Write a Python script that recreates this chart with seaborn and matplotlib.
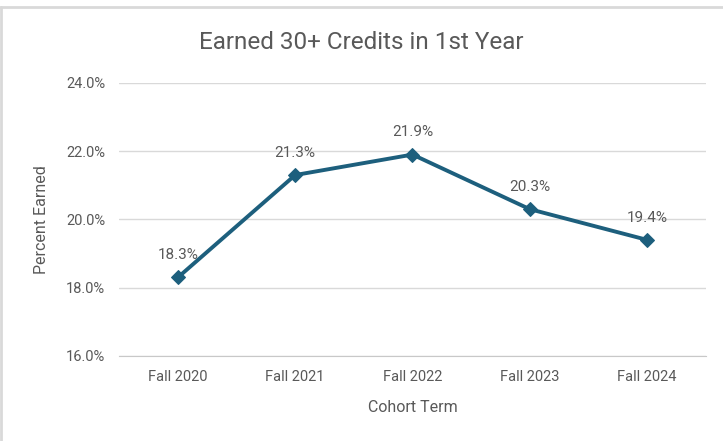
import pandas as pd
import matplotlib.pyplot as plt
import seaborn as sns
from matplotlib.ticker import PercentFormatter

terms = ['Fall 2020', 'Fall 2021', 'Fall 2022', 'Fall 2023', 'Fall 2024']
pct_earned = [18.3, 21.3, 21.9, 20.3, 19.4]
y_ticks = [16, 18, 20, 22, 24]

df = pd.DataFrame({'term': terms, 'pct': pct_earned})

sns.set_style('white')
plt.rcParams['font.family'] = ['Roboto', 'DejaVu Sans']

line_color = '#1d5f7d'
text_gray = '#595959'

fig = plt.figure(figsize=(7.23, 4.41), dpi=100)
ax = fig.add_axes([0.165, 0.193, 0.811, 0.619])

sns.lineplot(data=df, x='term', y='pct', ax=ax, color=line_color, linewidth=2.8,
             marker='D', markersize=7, markeredgecolor=line_color, sort=False)

for i, v in enumerate(pct_earned):
    ax.annotate(f'{v:.1f}%', (i, v), xytext=(0, 11), textcoords='offset points',
                ha='center', va='bottom', fontsize=11, color=text_gray)

ax.set_xlim(-0.5, len(terms) - 0.5)
ax.set_ylim(16, 24)
ax.set_yticks(y_ticks)
ax.yaxis.set_major_formatter(PercentFormatter(decimals=1))
ax.grid(axis='y', color='#d9d9d9', linewidth=1)
ax.set_axisbelow(True)
for s in ['top', 'right', 'left']:
    ax.spines[s].set_visible(False)
ax.spines['bottom'].set_color('#c8c8c8')
ax.tick_params(axis='both', colors=text_gray, labelsize=10.5, length=0, pad=10)

ax.set_xlabel('Cohort Term', fontsize=11.5, color=text_gray, labelpad=12)
ax.set_ylabel('Percent Earned', fontsize=11.5, color=text_gray, labelpad=12)
fig.suptitle('Earned 30+ Credits in 1st Year', fontsize=17.5, color=text_gray, y=0.93)

# outer chart frame (top and left edges visible in the reference)
fig.add_artist(plt.Line2D([0, 1], [0.984, 0.984], transform=fig.transFigure, color='#d9d9d9', linewidth=2))
fig.add_artist(plt.Line2D([0.002, 0.002], [0, 0.984], transform=fig.transFigure, color='#d9d9d9', linewidth=2))

fig.savefig('out.png', dpi=100, facecolor='white')
